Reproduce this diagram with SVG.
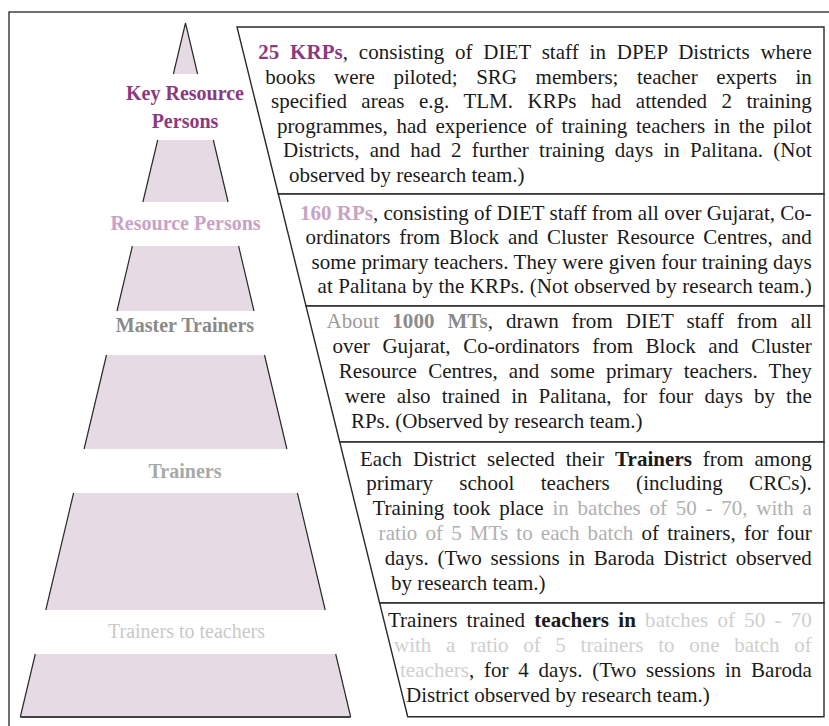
<svg xmlns="http://www.w3.org/2000/svg" width="829" height="726" viewBox="0 0 829 726">
  <style>
    .t { font-family: "Liberation Serif", "Times New Roman", serif; font-size: 21px; fill: #1a1a1a; }
    .b { font-weight: bold; }
    .lbl { font-family: "Liberation Serif", "Times New Roman", serif; font-size: 20px; text-anchor: middle; }
    .tier { fill: #e6dae4; stroke: none; }
    .side { fill: none; stroke: #2a2a2a; stroke-width: 1.2; }
    .box { fill: #ffffff; stroke: #2a2a2a; stroke-width: 1.4; }
    .faint { fill: #cfcfcf; }
    .grey { fill: #b0b0b0; }
  </style>
  <rect x="0" y="0" width="829" height="726" fill="#ffffff"/>
  <!-- outer frame, running off the right and bottom edges -->
  <rect x="9" y="12" width="840" height="740" fill="none" stroke="#222" stroke-width="1.3"/>

  <!-- pyramid tiers -->
  <g id="tier-key-resource-persons">
    <path class="tier" d="M185.5 23 L197.6 74 L173.4 74 Z"/>
    <path class="side" d="M173.4 74 L185.5 23 L197.6 74"/>
    <text class="lbl b" x="185" y="100" fill="#8b3a7e">Key Resource</text>
    <text class="lbl b" x="185" y="128" fill="#8b3a7e">Persons</text>
  </g>
  <g id="tier-resource-persons">
    <path class="tier" d="M157.7 140 L213.3 140 L228.1 202 L142.9 202 Z"/>
    <path class="side" d="M157.7 140 L142.9 202 M213.3 140 L228.1 202"/>
    <text class="lbl b" x="185.5" y="230" fill="#c8a3c4">Resource Persons</text>
  </g>
  <g id="tier-master-trainers">
    <path class="tier" d="M132.4 246 L238.6 246 L254 311 L117 311 Z"/>
    <path class="side" d="M132.4 246 L117 311 M238.6 246 L254 311"/>
    <text class="lbl b" x="185" y="331.5" fill="#8a8a8a">Master Trainers</text>
  </g>
  <g id="tier-trainers">
    <path class="tier" d="M106.5 355 L264.5 355 L286.9 449 L84.1 449 Z"/>
    <path class="side" d="M106.5 355 L84.1 449 M264.5 355 L286.9 449"/>
    <text class="lbl b" x="185" y="478" fill="#a8a8a8">Trainers</text>
  </g>
  <g id="tier-trainers-to-teachers">
    <path class="tier" d="M73.6 493 L297.4 493 L325.2 610 L45.8 610 Z"/>
    <path class="side" d="M73.6 493 L45.8 610 M297.4 493 L325.2 610"/>
    <text class="lbl" x="186.5" y="638" fill="#c9c9c9">Trainers to teachers</text>
  </g>
  <g id="tier-teachers">
    <path class="tier" d="M35.3 654 L335.7 654 L350.7 717 L20.3 717 Z"/>
    <path class="side" d="M35.3 654 L20.3 717 M335.7 654 L350.7 717"/>
    <path d="M20.3 717 L350.7 717" stroke="#444" stroke-width="2"/>
  </g>

  <!-- description panels, sharing one slanted left edge -->
  <g id="panel-krp">
    <path class="box" d="M237 27 L824 27 L824 194 L278.3 194 Z"/>
    <text class="t" x="258.3" y="59" textLength="553.5" lengthAdjust="spacing" style="word-spacing:5.5px"><tspan class="b" fill="#8b3a7e">25 KRPs</tspan>, consisting of DIET staff in DPEP Districts where</text>
    <text class="t" x="265.3" y="83.5" textLength="546.5" lengthAdjust="spacing" style="word-spacing:13.3px">books were piloted; SRG members; teacher experts in</text>
    <text class="t" x="271" y="108" textLength="540.8" lengthAdjust="spacing" style="word-spacing:9.2px">specified areas e.g. TLM. KRPs had attended 2 training</text>
    <text class="t" x="277" y="132.5" textLength="534.8" lengthAdjust="spacing" style="word-spacing:3.2px">programmes, had experience of training teachers in the pilot</text>
    <text class="t" x="283" y="157" textLength="528.8" lengthAdjust="spacing" style="word-spacing:5px">Districts, and had 2 further training days in Palitana. (Not</text>
    <text class="t" x="289" y="181.5">observed by research team.)</text>
  </g>

  <g id="panel-rp">
    <path class="box" d="M278.3 194 L824 194 L824 306 L306 306 Z"/>
    <text class="t" x="300" y="219.5" textLength="511.8" lengthAdjust="spacing"><tspan class="b" fill="#c8a3c4">160 RPs</tspan>, consisting of DIET staff from all over Gujarat, Co-</text>
    <text class="t" x="305.5" y="244" textLength="506.3" lengthAdjust="spacing" style="word-spacing:3.6px">ordinators from Block and Cluster Resource Centres, and</text>
    <text class="t" x="311.5" y="268.7" textLength="500.3" lengthAdjust="spacing">some primary teachers. They were given four training days</text>
    <text class="t" x="317.5" y="293.3" textLength="494.3" lengthAdjust="spacing">at Palitana by the KRPs. (Not observed by research team.)</text>
  </g>

  <g id="panel-mt">
    <path class="box" d="M306 306 L824 306 L824 442 L339.7 442 Z"/>
    <text class="t" x="326.5" y="328" textLength="485.3" lengthAdjust="spacing" style="word-spacing:7.6px"><tspan fill="#9a9a9a">About <tspan class="b" fill="#8a8a8a">1000 MTs</tspan></tspan>, drawn from DIET staff from all</text>
    <text class="t" x="332.6" y="353" textLength="479.2" lengthAdjust="spacing" style="word-spacing:7.4px">over Gujarat, Co-ordinators from Block and Cluster</text>
    <text class="t" x="338.7" y="378" textLength="473.1" lengthAdjust="spacing" style="word-spacing:5.9px">Resource Centres, and some primary teachers. They</text>
    <text class="t" x="344.8" y="403" textLength="467" lengthAdjust="spacing" style="word-spacing:5.8px">were also trained in Palitana, for four days by the</text>
    <text class="t" x="350.9" y="428">RPs. (Observed by research team.)</text>
  </g>

  <g id="panel-trainers">
    <path class="box" d="M339.7 442 L824 442 L824 603 L379.6 603 Z"/>
    <text class="t" x="360" y="465.5" textLength="451.8" lengthAdjust="spacing" style="word-spacing:5.5px">Each District selected their <tspan class="b">Trainers</tspan> from among</text>
    <text class="t" x="366.2" y="490" textLength="445.6" lengthAdjust="spacing" style="word-spacing:21px">primary school teachers (including CRCs).</text>
    <text class="t" x="372.4" y="515" textLength="439.4" lengthAdjust="spacing" style="word-spacing:3.4px">Training took place <tspan class="grey">in batches of 50 - 70, with a</tspan></text>
    <text class="t" x="378.6" y="540" textLength="433.2" lengthAdjust="spacing" style="word-spacing:2.8px"><tspan class="grey">ratio of 5 MTs to each batch</tspan> of trainers, for four</text>
    <text class="t" x="384.8" y="565" textLength="427" lengthAdjust="spacing" style="word-spacing:3.5px">days. (Two sessions in Baroda District observed</text>
    <text class="t" x="391" y="589.5">by research team.)</text>
  </g>

  <g id="panel-teachers">
    <path class="box" d="M379.6 603 L824 603 L824 716.7 L407.7 716.7 Z"/>
    <text class="t" x="388" y="627" textLength="423.8" lengthAdjust="spacing" style="word-spacing:4px">Trainers trained <tspan class="b">teachers in</tspan> <tspan class="faint">batches of 50 - 70</tspan></text>
    <text class="t faint" x="394" y="652" textLength="417.8" lengthAdjust="spacing" style="word-spacing:9.5px">with a ratio of 5 trainers to one batch of</text>
    <text class="t" x="400" y="677" textLength="411.8" lengthAdjust="spacing" style="word-spacing:4.4px"><tspan class="faint">teachers</tspan>, for 4 days. (Two sessions in Baroda</text>
    <text class="t" x="406" y="701.5">District observed by research team.)</text>
  </g>
</svg>
